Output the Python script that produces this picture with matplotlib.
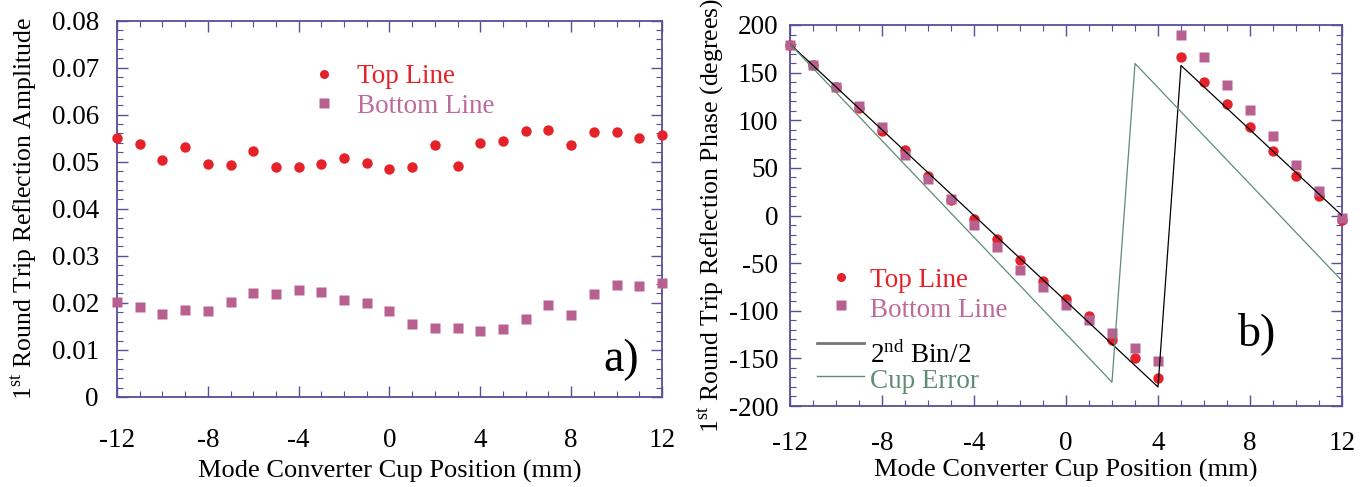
import numpy as np
import matplotlib
matplotlib.use("Agg")
import matplotlib.pyplot as plt
from matplotlib.ticker import MultipleLocator

plt.rcParams['font.family'] = ['Liberation Serif', 'DejaVu Serif']
plt.rcParams['mathtext.fontset'] = 'custom'
plt.rcParams['mathtext.rm'] = 'Liberation Serif'
plt.rcParams['axes.unicode_minus'] = False

# ---- data ----
position = np.arange(-12, 13)

amp_top = [0.0550, 0.0537, 0.0503, 0.0531, 0.0495, 0.0492, 0.0522, 0.0488, 0.0489,
           0.0496, 0.0507, 0.0498, 0.0484, 0.0488, 0.0536, 0.0490, 0.0540, 0.0545,
           0.0565, 0.0568, 0.0536, 0.0563, 0.0563, 0.0551, 0.0556]
amp_bottom = [0.0201, 0.0192, 0.0177, 0.0185, 0.0182, 0.0201, 0.0222, 0.0218, 0.0228,
              0.0223, 0.0207, 0.0199, 0.0182, 0.0155, 0.0146, 0.0146, 0.0141, 0.0145,
              0.0165, 0.0196, 0.0175, 0.0218, 0.0239, 0.0235, 0.0242]

phase_top = [179, 158, 134.5, 112.5, 89, 69, 41, 16, -3.7, -25, -47, -69, -88, -106,
             -131, -150, -171, 166, 140, 117, 93, 68, 41.5, 20, -5]
phase_bottom = [179, 158, 134.5, 115, 93, 63, 38, 17, -10, -33, -57, -75, -94, -110,
                -123, -139, -153, 189, 166, 137, 111, 83, 53, 26, -3]

# second bin phase divided by two (wrapped sawtooth)
bin2_x = [-12, 4, 5, 12]
bin2_y = [180, -180, 157.5, 0]
# phase expected from the cup positioning error
cup_x = [-12, 2, 3, 12]
cup_y = [180, -175, 159.6, -68.5]

amp_ticks = [0, 0.01, 0.02, 0.03, 0.04, 0.05, 0.06, 0.07, 0.08]
amp_ticklabels = ['0', '0.01', '0.02', '0.03', '0.04', '0.05', '0.06', '0.07', '0.08']
phase_ticks = [-200, -150, -100, -50, 0, 50, 100, 150, 200]
x_ticks = [-12, -8, -4, 0, 4, 8, 12]

# ---- styles ----
RED = '#e5222a'
PINK = '#b8608f'
PINK_TXT = '#bf6a9c'
GREEN = '#5f8c74'
SPINE = '#5b4d99'
FS_TICK = 19.5
FS_LABEL = 19
FS_YLABEL = 18.5
FS_LEG = 19.5

fig = plt.figure(figsize=(13.67, 4.87), dpi=100)
ax1 = fig.add_axes([117/1367, 90/487, 545/1367, 376.5/487])
ax2 = fig.add_axes([790/1367, 81/487, 552/1367, 381/487])


def style_axes(ax, ypad, xpad, xlabelpad):
    for s in ax.spines.values():
        s.set_color(SPINE)
        s.set_linewidth(1.3)
    ax.tick_params(which='both', direction='in', top=True, right=True,
                   color=SPINE, labelsize=FS_TICK, labelcolor='black')
    ax.tick_params(which='major', length=8, width=1.0)
    ax.tick_params(which='minor', length=4, width=0.8)
    ax.tick_params(axis='x', which='major', pad=xpad)
    ax.tick_params(axis='y', which='major', pad=ypad)
    ax.set_xlim(-12, 12)
    ax.set_xticks(x_ticks)
    ax.xaxis.set_minor_locator(MultipleLocator(1))
    ax.set_xlabel('Mode Converter Cup Position (mm)', fontsize=FS_LABEL, labelpad=xlabelpad)


# ---- panel a: amplitude ----
style_axes(ax1, 13, 22, 5)
ax1.plot(position, amp_top, 'o', color=RED, ms=7.5, mec='none', clip_on=False, zorder=3)
ax1.plot(position, amp_bottom, 's', color=PINK, ms=7, mec='none', clip_on=False, zorder=3)
ax1.set_ylim(0, 0.08)
ax1.set_yticks(amp_ticks)
ax1.set_yticklabels(amp_ticklabels)
ax1.yaxis.set_minor_locator(MultipleLocator(0.002))
ax1.set_ylabel(r'1$^{\mathrm{st}}$ Round Trip Reflection Amplitude', fontsize=FS_YLABEL,
               labelpad=9)

ax1.plot([0.38], [0.858], 'o', color=RED, ms=6.5, mec='none', transform=ax1.transAxes)
ax1.plot([0.38], [0.781], 's', color=PINK, ms=6.5, mec='none', transform=ax1.transAxes)
ax1.text(0.44, 0.834, 'Top Line', color=RED, fontsize=FS_LEG, va='baseline',
         transform=ax1.transAxes)
ax1.text(0.44, 0.754, 'Bottom Line', color=PINK_TXT, fontsize=FS_LEG, va='baseline',
         transform=ax1.transAxes)
ax1.text(0.892, 0.069, 'a)', fontsize=33, va='baseline', transform=ax1.transAxes)

# ---- panel b: phase ----
style_axes(ax2, 8.5, 18, 2)
ax2.plot(position, phase_top, 'o', color=RED, ms=7.5, mec='none', clip_on=False, zorder=3)
ax2.plot(position, phase_bottom, 's', color=PINK, ms=7, mec='none', clip_on=False, zorder=3)
ax2.plot(bin2_x, bin2_y, color='black', lw=0.9, zorder=4)
ax2.plot(cup_x, cup_y, color=GREEN, lw=0.9, zorder=4)
ax2.set_ylim(-200, 200)
ax2.set_yticks(phase_ticks)
ax2.yaxis.set_minor_locator(MultipleLocator(10))
ax2.set_ylabel(r'1$^{\mathrm{st}}$ Round Trip Reflection Phase (degrees)', fontsize=FS_YLABEL,
               labelpad=2)

ax2.plot([0.092], [0.339], 'o', color=RED, ms=6.5, mec='none', transform=ax2.transAxes)
ax2.plot([0.092], [0.265], 's', color=PINK, ms=6.5, mec='none', transform=ax2.transAxes)
ax2.plot([0.049, 0.134], [0.165, 0.165], color='#777777', lw=2, transform=ax2.transAxes)
ax2.plot([0.049, 0.134], [0.079, 0.079], color=GREEN, lw=1, transform=ax2.transAxes)
ax2.text(0.145, 0.312, 'Top Line', color=RED, fontsize=FS_LEG, va='baseline',
         transform=ax2.transAxes)
ax2.text(0.145, 0.234, 'Bottom Line', color=PINK_TXT, fontsize=FS_LEG, va='baseline',
         transform=ax2.transAxes)
ax2.text(0.145, 0.113, r'2$^{\mathrm{nd}}$ Bin/2', color='black', fontsize=FS_LEG,
         va='baseline', transform=ax2.transAxes)
ax2.text(0.145, 0.047, 'Cup Error', color=GREEN, fontsize=FS_LEG, va='baseline',
         transform=ax2.transAxes)
ax2.text(0.812, 0.16, 'b)', fontsize=33, va='baseline', transform=ax2.transAxes)

fig.savefig('out.png', dpi=100)
